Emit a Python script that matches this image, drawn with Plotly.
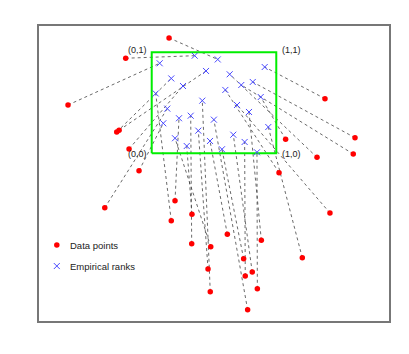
import plotly.graph_objects as go

# Data points (original scale) and their empirical ranks, pairwise
data_x = [0.139, -0.209, -0.672, -0.281, -0.262, -0.182, -0.102, -0.377,
          1.391, 1.632, 1.618, 1.327, 1.075, 1.022, 1.431, 1.209,
          0.474, 0.187, 0.323, 0.321, 0.452, 0.470, 0.607, 0.770,
          0.738, 0.807, 0.751, 0.880, 0.848, 0.157]
data_y = [1.142, 0.941, 0.478, 0.211, 0.228, 0.043, -0.172, -0.539,
          0.541, 0.154, -0.007, -0.040, 0.139, -0.192, -0.591, -1.034,
          -0.925, -0.469, -0.604, -0.895, -1.146, -1.370, -0.802, -1.549,
          -1.044, -1.175, -1.215, -0.861, -1.341, -0.667]
rank_x = [0.530, 0.345, 0.064, 0.157, 0.436, 0.251, 0.093, 0.125,
          0.907, 0.811, 0.719, 0.626, 0.875, 0.591, 0.685, 0.936,
          0.187, 0.219, 0.281, 0.313, 0.374, 0.406, 0.468, 0.499,
          0.564, 0.655, 0.746, 0.781, 0.845, 0.032]
rank_y = [0.929, 0.966, 0.891, 0.741, 0.815, 0.666, 0.297, 0.442,
          0.854, 0.706, 0.676, 0.782, 0.557, 0.627, 0.478, 0.260,
          0.149, 0.347, 0.072, 0.372, 0.224, 0.521, 0.122, 0.333,
          0.040, 0.184, 0.112, 0.409, 0.010, 0.592]

square_x = [0, 1, 1, 0, 0]
square_y = [0, 0, 1, 1, 0]
corner_labels = ["(0,0)", "(1,0)", "(1,1)", "(0,1)"]
corner_x = [0, 1, 1, 0]
corner_y = [0, 0, 1, 1]

legend_labels = ["Data points", "Empirical ranks"]

RED = "#ff0000"
BLUE = "#4848ff"

# connecting segments
seg_x, seg_y = [], []
for a, b, c, d in zip(data_x, data_y, rank_x, rank_y):
    seg_x += [a, c, None]
    seg_y += [b, d, None]

fig = go.Figure()
fig.add_trace(go.Scatter(x=seg_x, y=seg_y, mode="lines",
                         line=dict(color="#444444", width=0.8, dash="dot"),
                         hoverinfo="skip", showlegend=False))
fig.add_trace(go.Scatter(x=square_x, y=square_y, mode="lines",
                         line=dict(color="#00ee00", width=2),
                         showlegend=False))
fig.add_trace(go.Scatter(x=rank_x, y=rank_y, mode="markers",
                         marker=dict(symbol="x-thin-open", size=6, color=BLUE,
                                     line=dict(color=BLUE, width=1)),
                         showlegend=False))
fig.add_trace(go.Scatter(x=data_x, y=data_y, mode="markers",
                         marker=dict(symbol="circle", size=5.5, color=RED),
                         showlegend=False))

# manual legend
leg_x = -0.762
leg_y = [-0.908, -1.116]
fig.add_trace(go.Scatter(x=[leg_x], y=[leg_y[0]], mode="markers",
                         marker=dict(symbol="circle", size=5.5, color=RED),
                         showlegend=False))
fig.add_trace(go.Scatter(x=[leg_x], y=[leg_y[1]], mode="markers",
                         marker=dict(symbol="x-thin-open", size=6, color=BLUE,
                                     line=dict(color=BLUE, width=1)),
                         showlegend=False))

annotations = []
for lab, yy in zip(legend_labels, leg_y):
    annotations.append(dict(x=-0.669, y=yy, text=lab, showarrow=False,
                            xanchor="left", yanchor="middle",
                            font=dict(size=9.5, color="#222222")))
for lab, cx, cy in zip(corner_labels, corner_x, corner_y):
    left = cx == 0
    annotations.append(dict(x=cx, y=cy, text=lab, showarrow=False,
                            xanchor="right" if left else "left",
                            yanchor="middle",
                            xshift=-3 if left else 4,
                            yshift=2 if cy == 1 else -1,
                            font=dict(size=9, color="#222222")))

# page body has an 8px margin: compensate so the plot box lands at (39,26)-(389,321)
fig.update_layout(
    width=401, height=346,
    margin=dict(l=31, r=20, t=18, b=33),
    paper_bgcolor="white", plot_bgcolor="white",
    font=dict(family="Liberation Sans, Arial, sans-serif"),
    annotations=annotations,
    xaxis=dict(range=[-0.905, 1.905], showgrid=False, zeroline=False,
               showticklabels=False, ticks="", showline=True, mirror=True,
               linecolor="#777777", linewidth=1.5),
    yaxis=dict(range=[-1.660, 1.260], showgrid=False, zeroline=False,
               showticklabels=False, ticks="", showline=True, mirror=True,
               linecolor="#777777", linewidth=1.5),
)

fig.write_html("out.html")
